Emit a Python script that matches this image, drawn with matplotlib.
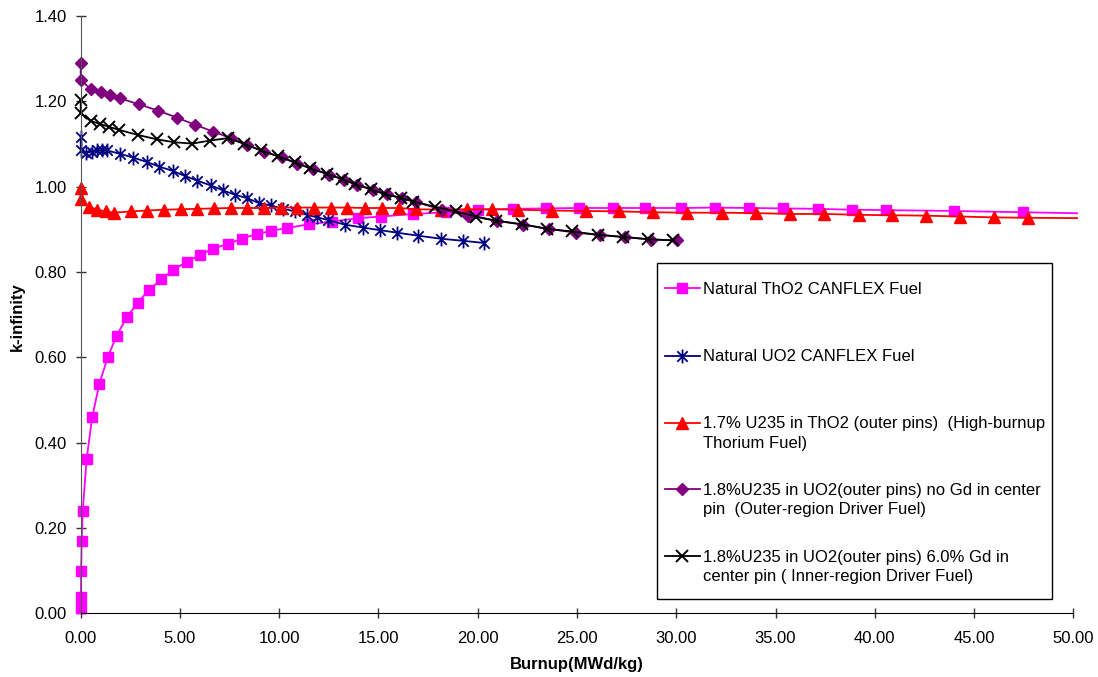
import matplotlib.pyplot as plt
from matplotlib.lines import Line2D
from matplotlib.patches import Rectangle
from matplotlib.path import Path
from matplotlib.ticker import FormatStrFormatter, MultipleLocator

plt.rcParams['font.family'] = ['Liberation Sans', 'DejaVu Sans']
plt.rcParams['font.size'] = 12

# burnup (MWd/kg) vs k-infinity, one pair of lists per fuel
tho2_burnup = [0, 0.01, 0.02, 0.05, 0.1, 0.30, 0.58, 0.94, 1.36, 1.81, 2.33, 2.87, 3.44, 4.06,
               4.66, 5.34, 6.01, 6.68, 7.44, 8.11, 8.87, 9.57, 10.38, 11.52, 12.64, 13.95,
               15.13, 16.76, 18.39, 20.03, 21.79, 23.43, 25.12, 26.83, 28.43, 30.26, 31.95,
               33.67, 35.40, 37.13, 38.84, 40.55, 43.99, 47.46, 51.0]
tho2_kinf = [0.012, 0.039, 0.100, 0.170, 0.239, 0.362, 0.460, 0.538, 0.600, 0.651, 0.694, 0.728,
             0.758, 0.783, 0.805, 0.824, 0.840, 0.855, 0.866, 0.878, 0.889, 0.896, 0.903, 0.912,
             0.918, 0.926, 0.930, 0.936, 0.940, 0.946, 0.948, 0.949, 0.950, 0.950, 0.950, 0.950,
             0.951, 0.950, 0.949, 0.948, 0.946, 0.945, 0.943, 0.940, 0.937]

uo2_burnup = [0, 0, 0.27, 0.55, 0.81, 1.06, 1.31, 1.98, 2.65, 3.32, 3.96, 4.63, 5.25, 5.87,
              6.55, 7.18, 7.77, 8.39, 9.00, 9.59, 10.18, 10.80, 11.39, 11.92, 12.44, 13.30,
              14.24, 15.08, 15.95, 17.01, 18.14, 19.27, 20.33]
uo2_kinf = [1.116, 1.086, 1.079, 1.082, 1.085, 1.085, 1.085, 1.077, 1.068, 1.058, 1.047, 1.037,
            1.025, 1.014, 1.003, 0.991, 0.981, 0.973, 0.961, 0.956, 0.948, 0.942, 0.934, 0.928,
            0.922, 0.911, 0.904, 0.898, 0.892, 0.885, 0.878, 0.873, 0.868]

thu_burnup = [0, 0, 0.42, 0.84, 1.26, 1.68, 2.52, 3.36, 4.20, 5.04, 5.87, 6.72, 7.56, 8.39,
              9.23, 10.08, 10.91, 11.75, 12.59, 13.43, 14.32, 15.19, 16.04, 16.88, 18.14, 19.45,
              20.74, 22.02, 23.73, 25.44, 27.13, 28.85, 30.56, 32.29, 34.02, 35.73, 37.45,
              39.18, 40.89, 42.58, 44.29, 46.00, 47.74, 51.0]
thu_kinf = [0.996, 0.971, 0.953, 0.946, 0.942, 0.939, 0.942, 0.944, 0.946, 0.947, 0.948, 0.949,
            0.950, 0.950, 0.950, 0.951, 0.951, 0.951, 0.951, 0.951, 0.950, 0.950, 0.950, 0.947,
            0.946, 0.947, 0.947, 0.946, 0.944, 0.943, 0.942, 0.940, 0.939, 0.939, 0.938, 0.936,
            0.936, 0.934, 0.933, 0.932, 0.930, 0.928, 0.927, 0.926]

outer_burnup = [0, 0, 0.50, 1.01, 1.48, 1.98, 2.94, 3.91, 4.84, 5.76, 6.68, 7.56, 8.39, 9.23,
                10.12, 10.91, 11.72, 12.52, 13.26, 13.90, 14.71, 15.45, 16.17, 16.89, 18.19,
                19.53, 20.96, 22.27, 23.61, 24.95, 26.16, 27.42, 28.73, 30.03]
outer_kinf = [1.290, 1.250, 1.229, 1.222, 1.215, 1.207, 1.193, 1.178, 1.162, 1.145, 1.129, 1.114,
              1.098, 1.082, 1.069, 1.053, 1.042, 1.028, 1.016, 1.004, 0.993, 0.982, 0.973, 0.964,
              0.946, 0.932, 0.920, 0.911, 0.901, 0.892, 0.887, 0.882, 0.876, 0.874]

inner_burnup = [0, 0, 0.50, 0.97, 1.44, 1.94, 2.90, 3.83, 4.72, 5.62, 6.51, 7.44, 8.24, 9.07,
                9.95, 10.80, 11.55, 12.39, 13.15, 13.82, 14.61, 15.33, 16.12, 16.76, 17.85,
                18.91, 19.91, 20.91, 22.25, 23.48, 24.74, 26.08, 27.30, 28.56, 29.85]
inner_kinf = [1.202, 1.172, 1.154, 1.147, 1.140, 1.133, 1.121, 1.111, 1.104, 1.101, 1.108, 1.114,
              1.100, 1.085, 1.071, 1.057, 1.043, 1.030, 1.018, 1.006, 0.994, 0.982, 0.974, 0.965,
              0.953, 0.942, 0.930, 0.920, 0.912, 0.901, 0.895, 0.887, 0.882, 0.877, 0.874]

labels = [
    'Natural ThO2 CANFLEX Fuel',
    'Natural UO2 CANFLEX Fuel',
    '1.7% U235 in ThO2 (outer pins)  (High-burnup\nThorium Fuel)',
    '1.8%U235 in UO2(outer pins) no Gd in center\npin  (Outer-region Driver Fuel)',
    '1.8%U235 in UO2(outer pins) 6.0% Gd in\ncenter pin ( Inner-region Driver Fuel)',
]

# asterisk: vertical bar crossed by an X
asterisk = Path([(0, -1), (0, 1), (-0.75, -0.75), (0.75, 0.75), (-0.75, 0.75), (0.75, -0.75)],
                [Path.MOVETO, Path.LINETO] * 3)

styles = [
    dict(color='#FF00FF', marker='s', ms=7),
    dict(color='#000080', marker=asterisk, ms=10, mew=1.3, mfc='none'),
    dict(color='#FF0000', marker='^', ms=8.5),
    dict(color='#800080', marker='D', ms=6.5),
    dict(color='#000000', marker='x', ms=8, mew=1.4),
]
series = [(tho2_burnup, tho2_kinf), (uo2_burnup, uo2_kinf), (thu_burnup, thu_kinf),
          (outer_burnup, outer_kinf), (inner_burnup, inner_kinf)]

W, H = 1098, 677
fig = plt.figure(figsize=(W / 100, H / 100), dpi=100)
ax = fig.add_axes([80.7 / W, (H - 613.3) / H, (1073.3 - 80.7) / W, (613.3 - 16) / H])

# plot area slightly wider than the axes so markers at zero burnup are not cut
clip = Rectangle((-1.0, -0.05), 51.25, 1.5, transform=ax.transData)
for (bx, ky), st in zip(series, styles):
    ln, = ax.plot(bx, ky, lw=1.3, **st)
    ln.set_clip_path(clip)

ax.set_xlim(0, 50)
ax.set_ylim(0, 1.4)
ax.xaxis.set_major_locator(MultipleLocator(5))
ax.yaxis.set_major_locator(MultipleLocator(0.2))
ax.xaxis.set_major_formatter(FormatStrFormatter('%.2f'))
ax.yaxis.set_major_formatter(FormatStrFormatter('%.2f'))
ax.tick_params(axis='both', direction='inout', length=7, width=1, labelsize=12, color='#333333')
ax.tick_params(axis='x', pad=9)
ax.tick_params(axis='y', pad=6.5)

for side in ('top', 'right'):
    ax.spines[side].set_visible(False)
ax.spines['left'].set_color('#555555')
ax.spines['bottom'].set_color('black')

ax.set_xlabel('Burnup(MWd/kg)', fontweight='bold', fontsize=12)
ax.set_ylabel('k-infinity', fontweight='bold', fontsize=12)
ax.xaxis.set_label_coords(0.5, (613.3 - 657) / 597.3)
ax.yaxis.set_label_coords((25 - 80.7) / 992.6, 0.497)

# hand-placed legend box to get evenly spaced entries
def fx(px):
    return px / W

def fy(py):
    return (H - py) / H

fig.add_artist(Rectangle((fx(656.7), fy(599)), fx(1052) - fx(656.7), fy(263.3) - fy(599),
                         transform=fig.transFigure, fill=False, ec='black', lw=1))
rows = [288.3, 355.7, 422.7, 489.3, 556.0]
for row, st, lab in zip(rows, styles, labels):
    fig.add_artist(Line2D([fx(665), fx(682), fx(699.5)], [fy(row)] * 3, transform=fig.transFigure,
                          lw=1.3, markevery=[1], **st))
    fig.text(fx(703.3), fy(row - 6.3), lab, fontsize=12, va='top', ha='left', linespacing=1.35)

fig.savefig('out.png', dpi=100, facecolor='white')
